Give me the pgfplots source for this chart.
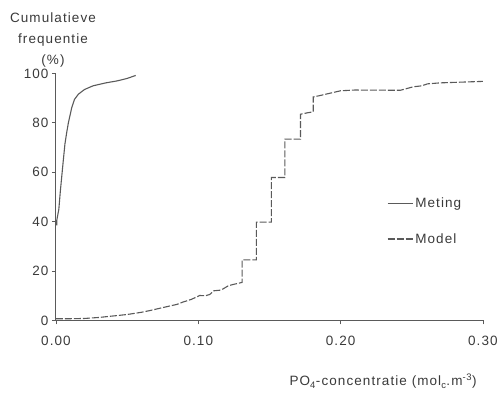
\documentclass[border=0pt]{standalone}
\usepackage{fontspec}
\setmainfont[LetterSpace=8]{Liberation Sans}
\usepackage{pgfplots}
\pgfplotsset{compat=1.18}
\definecolor{lc}{HTML}{5A5A5A}
\definecolor{tc}{HTML}{3A3A3A}
\begin{document}
\begin{tikzpicture}
\begin{axis}[
  scale only axis, width=427pt, height=247pt,
  xmin=0, xmax=0.3, ymin=0, ymax=100,
  axis x line*=bottom, axis y line*=left,
  axis line style={draw=lc, line width=1pt, -},
  xtick={0,0.1,0.2,0.3}, ytick={0,20,40,60,80,100},
  tick align=outside, major tick length=4pt,
  tick style={draw=lc, line width=0.8pt},
  every tick label/.append style={font=\fontsize{13.5}{16}\selectfont, text=tc},
  xticklabel style={yshift=-8pt, /pgf/number format/.cd, fixed, fixed zerofill, precision=2, assume math mode=true},
  yticklabel style={/pgf/number format/.cd, fixed, precision=0, assume math mode=true},
  legend style={draw=none, fill=none, at={(axis cs:0.2326,40.1)}, anchor=west,
    inner sep=0pt, row sep=20pt, font=\fontsize{13.5}{16}\selectfont, text=tc},
  legend cell align=left,
  legend image code/.code={\draw[#1] (0pt,0pt) -- (25pt,0pt);},
  clip=false,
]
\addplot[lc, line width=1.1pt] coordinates {
(0.0005,38.5) (0.0005,40.4) (0.002,45) (0.003,52) (0.004,58) (0.005,64)
(0.0063,71.5) (0.0075,76) (0.0087,80) (0.011,86) (0.013,89.5) (0.0157,91.6)
(0.02,93.5) (0.026,95) (0.035,96.2) (0.043,97) (0.05,98) (0.056,99.2)
};
\addlegendentry{Meting}
\addplot[lc, line width=1.1pt, dash pattern=on 7pt off 2pt] coordinates {
(0,0.7) (0.01,0.7) (0.02,0.8) (0.03,1.2) (0.04,1.8) (0.05,2.4) (0.06,3.3)
(0.066,4) (0.075,5.2) (0.085,6.5) (0.089,7.4) (0.095,8.5) (0.101,10.1)
(0.105,10) (0.108,10.5) (0.111,12) (0.116,12.3) (0.121,14) (0.124,14.5)
(0.1308,15.4) (0.1308,24.5) (0.1408,24.5) (0.1408,39.8) (0.1514,39.8)
(0.1514,57.9) (0.1608,57.9) (0.1608,73.4) (0.1718,73.4) (0.1718,83.5)
(0.176,84) (0.1808,84.5) (0.1808,90.5) (0.185,91) (0.191,91.8) (0.2,93)
(0.21,93.3) (0.242,93.2) (0.251,94.6) (0.257,95) (0.261,95.8) (0.27,96.2)
(0.285,96.5) (0.3,96.8)
};
\addlegendentry{Model}
\coordinate (ll) at (rel axis cs:0,0);
\coordinate (ur) at (rel axis cs:1,1);
\node[anchor=south, align=center, text=tc, font=\fontsize{13.5}{21}\selectfont,
  inner sep=0pt] at ([xshift=-3pt, yshift=6pt]rel axis cs:0,1)
  {Cumulatieve\\frequentie\\(\%)};
\node[anchor=base east, text=tc, font=\fontsize{13.5}{16}\selectfont, inner sep=0pt]
  at ([xshift=-6pt, yshift=-65.5pt]rel axis cs:1,0)
  {PO\textsubscript{4}-concentratie (mol\textsubscript{c}.m\textsuperscript{-3})};
\end{axis}
\path ([xshift=-56pt, yshift=-72.5pt]ll) rectangle ([xshift=18pt, yshift=73.5pt]ur);
\end{tikzpicture}
\end{document}
